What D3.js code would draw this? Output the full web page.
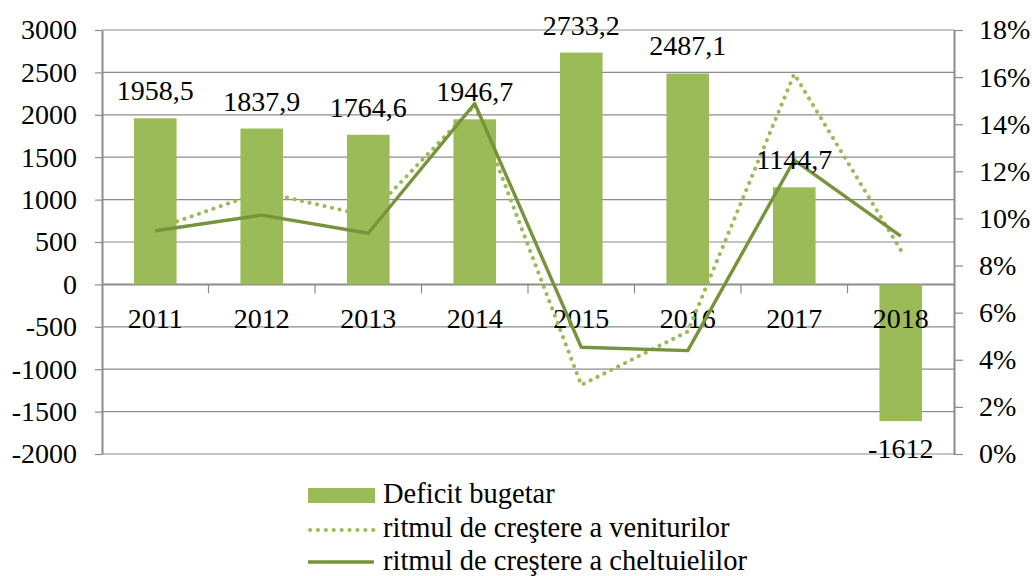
<!DOCTYPE html>
<html>
<head>
<meta charset="utf-8">
<script src="https://cdn.jsdelivr.net/npm/d3@7"></script>
<style>
  body { margin: 0; background: #fff; }
  svg text { font-family: "Liberation Serif", "DejaVu Serif", serif; fill: #000; }
</style>
</head>
<body>
<script>
const years = ['2011', '2012', '2013', '2014', '2015', '2016', '2017', '2018'];
const deficit = [1958.5, 1837.9, 1764.6, 1946.7, 2733.2, 2487.1, 1144.7, -1612];
const revenueGrowth = [9.55, 11.13, 10.1, 14.8, 2.93, 5.2, 16.13, 8.66];
const expenseGrowth = [9.48, 10.14, 9.37, 14.88, 4.53, 4.39, 12.48, 9.25];
const leftTicks = [-2000, -1500, -1000, -500, 0, 500, 1000, 1500, 2000, 2500, 3000];
const rightTicks = [0, 2, 4, 6, 8, 10, 12, 14, 16, 18];
const legendLabels = ['Deficit bugetar', 'ritmul de creştere a veniturilor', 'ritmul de creştere a cheltuielilor'];

const W = 1032, H = 576;
const PLOT = {L: 102, R: 954, T: 30, B: 454};
const FONT = 28;
const BAR = '#9bbb59', SOLID = '#77933c', GRID = '#8c8c8c';

const svg = d3.select('body').append('svg')
    .attr('width', W)
    .attr('height', H);

const x = d3.scaleBand()
    .domain(years)
    .range([PLOT.L, PLOT.R])
    .paddingInner(0.6)
    .paddingOuter(0.3);

const y = d3.scaleLinear().domain([-2000, 3000]).range([PLOT.B, PLOT.T]);
const y2 = d3.scaleLinear().domain([0, 18]).range([PLOT.B, PLOT.T]);
const cx = d => x(d) + x.bandwidth() / 2;
const fmt = v => String(v).replace('.', ',');

// gridlines
svg.append('g').selectAll('line')
    .data(leftTicks)
    .enter()
    .append('line')
    .attr('x1', PLOT.L).attr('x2', PLOT.R)
    .attr('y1', d => y(d)).attr('y2', d => y(d))
    .attr('stroke', GRID)
    .attr('stroke-width', d => d === 0 ? 2 : 1.2);

// left axis
const leftAxis = svg.append('g')
    .attr('transform', 'translate(' + PLOT.L + ',0)')
    .call(d3.axisLeft(y).tickValues(leftTicks).tickSize(7).tickSizeOuter(0).tickPadding(18).tickFormat(d => String(d)));

// right axis
const rightAxis = svg.append('g')
    .attr('transform', 'translate(' + PLOT.R + ',0)')
    .call(d3.axisRight(y2).tickValues(rightTicks).tickSize(9).tickSizeOuter(0).tickPadding(16).tickFormat(d => d + '%'));

[leftAxis, rightAxis].forEach(a => {
    a.select('.domain').attr('stroke', GRID).attr('stroke-width', 2);
    a.selectAll('.tick line').attr('stroke', GRID).attr('stroke-width', 1.2);
    a.selectAll('text').attr('font-size', FONT).attr('font-family', null);
    a.attr('font-family', null);
});

// category ticks on the zero line
const bounds = years.slice(1).map(d => x(d) - x.step() * x.paddingInner() / 2);
svg.append('g').selectAll('line')
    .data(bounds)
    .enter()
    .append('line')
    .attr('x1', d => d).attr('x2', d => d)
    .attr('y1', y(0)).attr('y2', y(0) + 9)
    .attr('stroke', GRID)
    .attr('stroke-width', 1.2);

// bars
svg.append('g').selectAll('rect')
    .data(deficit)
    .enter()
    .append('rect')
    .attr('x', (d, i) => x(years[i]))
    .attr('width', x.bandwidth())
    .attr('y', d => y(Math.max(d, 0)))
    .attr('height', d => Math.abs(y(d) - y(0)))
    .attr('fill', BAR);

// category labels
svg.append('g').selectAll('text')
    .data(years)
    .enter()
    .append('text')
    .attr('x', d => cx(d))
    .attr('y', y(0) + 44)
    .attr('text-anchor', 'middle')
    .attr('font-size', FONT)
    .text(d => d);

// lines
const line = (vals) => d3.line()
    .x((d, i) => cx(years[i]))
    .y(d => y2(d))(vals);

svg.append('path')
    .attr('d', line(revenueGrowth))
    .attr('fill', 'none')
    .attr('stroke', BAR)
    .attr('stroke-width', 4)
    .attr('stroke-linecap', 'round')
    .attr('stroke-dasharray', '0.1 7.6');

svg.append('path')
    .attr('d', line(expenseGrowth))
    .attr('fill', 'none')
    .attr('stroke', SOLID)
    .attr('stroke-width', 3.4)
    .attr('stroke-linejoin', 'round');

// bar value labels
svg.append('g').selectAll('text')
    .data(deficit)
    .enter()
    .append('text')
    .attr('x', (d, i) => cx(years[i]))
    .attr('y', d => d >= 0 ? y(d) - 18 : y(d) + 37)
    .attr('text-anchor', 'middle')
    .attr('font-size', FONT)
    .text(d => fmt(d));

// legend
const legend = svg.append('g').attr('transform', 'translate(308,0)');
const rows = [503, 537, 570];

legend.append('rect')
    .attr('x', 0).attr('y', rows[0] - 15)
    .attr('width', 67).attr('height', 15)
    .attr('fill', BAR);

legend.append('line')
    .attr('x1', 2).attr('x2', 66)
    .attr('y1', rows[1] - 7).attr('y2', rows[1] - 7)
    .attr('stroke', BAR)
    .attr('stroke-width', 4)
    .attr('stroke-linecap', 'round')
    .attr('stroke-dasharray', '0.1 7.8');

legend.append('line')
    .attr('x1', 0).attr('x2', 66)
    .attr('y1', rows[2] - 8).attr('y2', rows[2] - 8)
    .attr('stroke', SOLID)
    .attr('stroke-width', 3.6);

legend.selectAll('text')
    .data(legendLabels)
    .enter()
    .append('text')
    .attr('x', 75)
    .attr('y', (d, i) => rows[i])
    .attr('font-size', 28.5)
    .text(d => d);
</script>
</body>
</html>
